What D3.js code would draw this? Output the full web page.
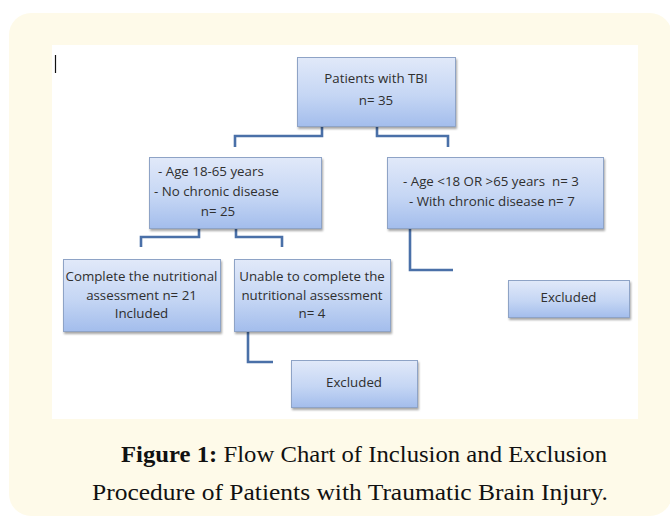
<!DOCTYPE html>
<html>
<head>
<meta charset="utf-8">
<script src="https://cdn.jsdelivr.net/npm/d3@7"></script>
<style>
  html, body { margin: 0; padding: 0; background: #ffffff; }
  svg { display: block; }
</style>
</head>
<body>
<svg id="svg" width="670" height="518"></svg>
<script>
// node texts (one array per box)
const nodeIds = ["tbi", "incl", "excl", "done", "unable", "exclRight", "exclLow"];
const nodeLines = [
  ["Patients with TBI", "n= 35"],
  ["- Age 18-65 years", "- No chronic disease", "n= 25"],
  ["- Age <18 OR >65 years  n= 3", "- With chronic disease n= 7"],
  ["Complete the nutritional", "assessment n= 21", "Included"],
  ["Unable to complete the", "nutritional assessment", "n= 4"],
  ["Excluded"],
  ["Excluded"]
];
const captionBold = "Figure 1:";
const captionLines = ["Flow Chart of Inclusion and Exclusion",
                      "Procedure of Patients with Traumatic Brain Injury."];

// layout of the boxes (x0, y0, x1, y1), text anchoring
const layout = {
  tbi:       { x0: 297, y0: 57,  x1: 455, y1: 126, ys: [83, 105] },
  incl:      { x0: 149, y0: 157, x1: 321, y1: 228, ys: [176, 196, 216], xs: [158, 154, 218], anchors: ["start", "start", "middle"] },
  excl:      { x0: 387, y0: 157, x1: 603, y1: 228, ys: [186, 206], xs: [403, 409], anchors: ["start", "start"] },
  done:      { x0: 63,  y0: 259, x1: 220, y1: 331, ys: [281, 300, 318] },
  unable:    { x0: 234, y0: 259, x1: 390, y1: 331, ys: [281, 300, 318] },
  exclRight: { x0: 508, y0: 280, x1: 629, y1: 317, ys: [302] },
  exclLow:   { x0: 291, y0: 360, x1: 417, y1: 407, ys: [387] }
};

// elbow connectors
const links = [
  [[322, 126], [322, 136], [235, 136], [235, 147]],
  [[377, 126], [377, 136], [448, 136], [448, 147]],
  [[199, 228], [199, 237], [141, 237], [141, 247]],
  [[236, 228], [236, 237], [282, 237], [282, 247]],
  [[410, 228], [410, 270], [453, 270]],
  [[248, 331], [248, 362], [273, 362]]
];

const svg = d3.select("#svg");
const defs = svg.append("defs");

const grad = defs.append("linearGradient")
  .attr("id", "boxGrad").attr("x1", 0).attr("y1", 0).attr("x2", 0).attr("y2", 1);
grad.append("stop").attr("offset", "0%").attr("stop-color", "#e1e9f9");
grad.append("stop").attr("offset", "55%").attr("stop-color", "#c5d6f4");
grad.append("stop").attr("offset", "100%").attr("stop-color", "#a3bdec");

const shadow = defs.append("filter").attr("id", "shadow")
  .attr("x", "-10%").attr("y", "-10%").attr("width", "130%").attr("height", "140%");
shadow.append("feDropShadow")
  .attr("dx", 1).attr("dy", 2).attr("stdDeviation", 1.2)
  .attr("flood-color", "#000").attr("flood-opacity", 0.35);

// cream card + white figure area
svg.append("rect")
  .attr("x", 9).attr("y", 13).attr("width", 663).attr("height", 503)
  .attr("rx", 22).attr("fill", "#fefae9");
svg.append("rect")
  .attr("x", 52).attr("y", 45).attr("width", 586).attr("height", 374)
  .attr("fill", "#ffffff");

// text cursor mark
svg.append("line")
  .attr("x1", 55.5).attr("x2", 55.5).attr("y1", 55).attr("y2", 73)
  .attr("stroke", "#111").attr("stroke-width", 1.2);

const line = d3.line();
svg.append("g").selectAll("path")
  .data(links)
  .join("path")
  .attr("d", line)
  .attr("fill", "none")
  .attr("stroke", "#4a70a8")
  .attr("stroke-width", 2.6);

const nodes = nodeIds.map((id, i) => ({ id, lines: nodeLines[i], ...layout[id] }));

const g = svg.append("g").selectAll("g")
  .data(nodes)
  .join("g");

g.append("rect")
  .attr("x", d => d.x0 + 0.5).attr("y", d => d.y0 + 0.5)
  .attr("width", d => d.x1 - d.x0).attr("height", d => d.y1 - d.y0)
  .attr("fill", "url(#boxGrad)")
  .attr("stroke", "#8ea3c6").attr("stroke-width", 1)
  .attr("filter", "url(#shadow)");

g.each(function (d) {
  const sel = d3.select(this);
  d.lines.forEach((t, i) => {
    const anchor = d.anchors ? d.anchors[i] : "middle";
    const x = d.xs ? d.xs[i] : (d.x0 + d.x1) / 2;
    sel.append("text")
      .attr("x", x).attr("y", d.ys[i])
      .attr("text-anchor", anchor)
      .attr("font-family", "'Open Sans', sans-serif")
      .attr("font-size", 13.3)
      .attr("fill", "#2f2f2f")
      .style("white-space", "pre")
      .text(t);
  });
});

// caption
const cap = svg.append("g")
  .attr("font-family", "'Liberation Serif', serif")
  .attr("font-size", 23.5)
  .attr("fill", "#111");
const t1 = cap.append("text").attr("x", 121).attr("y", 462)
  .attr("textLength", 486).attr("lengthAdjust", "spacingAndGlyphs");
t1.append("tspan").attr("font-weight", "bold").text(captionBold);
t1.append("tspan").text(" " + captionLines[0]);
cap.append("text").attr("x", 92).attr("y", 500)
  .attr("textLength", 516).attr("lengthAdjust", "spacingAndGlyphs")
  .text(captionLines[1]);
</script>
</body>
</html>
